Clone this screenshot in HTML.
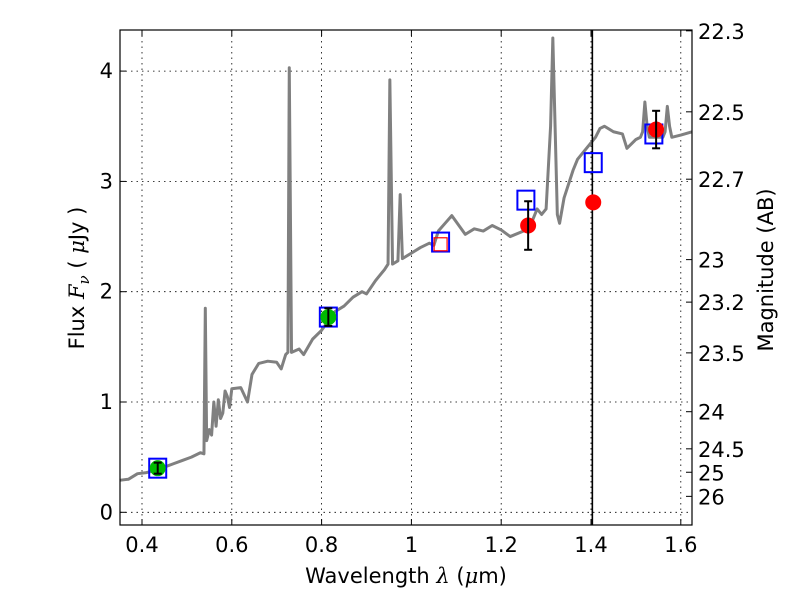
<!DOCTYPE html>
<html><head><meta charset="utf-8"><style>
body{margin:0;background:#fff}
svg text{font-family:"DejaVu Sans","Liberation Sans",sans-serif;font-size:21px;fill:#000}
</style></head><body>
<svg id="chart" width="800" height="600" xmlns="http://www.w3.org/2000/svg">
<rect width="800" height="600" fill="#fff"/>
<g id="grid"></g>
<g id="spec"></g>
<g id="marks"></g>
<rect x="120" y="30" width="572" height="495" fill="none" stroke="#000" stroke-width="1.2"/>
<g id="axes"></g>
<text x="406" y="583" text-anchor="middle">Wavelength  <tspan font-style="italic" font-family="DejaVu Serif">λ</tspan> (<tspan font-style="italic" font-family="DejaVu Serif">μ</tspan>m)</text>
<text transform="translate(84,278) rotate(-90)" text-anchor="middle">Flux  <tspan font-style="italic" font-family="DejaVu Serif">F</tspan><tspan font-style="italic" font-family="DejaVu Serif" font-size="15" dy="5">ν</tspan><tspan dy="-5">  ( </tspan><tspan font-style="italic" font-family="DejaVu Serif">μ</tspan>Jy )</text>
<text transform="translate(773,270) rotate(-90)" text-anchor="middle">Magnitude (AB)</text>
</svg>
<script>
const xTicks=[0.4,0.6,0.8,1,1.2,1.4,1.6];
const yTicks=[0,1,2,3,4];
const magTicks=[22.3,22.5,22.7,23,23.2,23.5,24,24.5,25,26];
const specLam=[0.35,0.37,0.39,0.41,0.43,0.45,0.47,0.49,0.51,0.53,0.538,0.541,0.544,0.55,0.555,0.56,0.565,0.57,0.575,0.58,0.585,0.59,0.595,0.6,0.62,0.635,0.645,0.66,0.68,0.7,0.71,0.72,0.725,0.728,0.733,0.75,0.76,0.78,0.8,0.83,0.85,0.87,0.89,0.9,0.92,0.94,0.948,0.952,0.958,0.97,0.975,0.98,1.0,1.02,1.04,1.05,1.06,1.075,1.09,1.12,1.14,1.16,1.18,1.2,1.22,1.25,1.27,1.28,1.29,1.30,1.31,1.315,1.32,1.325,1.33,1.34,1.36,1.37,1.39,1.41,1.42,1.43,1.45,1.47,1.48,1.50,1.51,1.515,1.52,1.525,1.53,1.56,1.565,1.57,1.575,1.58,1.60,1.625];
const specFlux=[0.29,0.30,0.35,0.36,0.38,0.41,0.44,0.47,0.50,0.54,0.53,1.85,0.65,0.75,0.70,1.0,0.78,1.02,0.85,0.9,1.1,1.05,0.95,1.12,1.13,1.0,1.25,1.35,1.37,1.36,1.30,1.43,1.45,4.03,1.45,1.48,1.43,1.57,1.65,1.82,1.87,1.95,2.0,1.98,2.1,2.2,2.25,3.92,2.25,2.28,2.88,2.3,2.35,2.4,2.44,2.42,2.55,2.62,2.69,2.52,2.57,2.55,2.6,2.56,2.5,2.55,2.65,2.75,2.7,2.75,3.5,4.3,3.5,2.7,2.62,2.85,3.1,3.2,3.3,3.4,3.48,3.5,3.45,3.43,3.3,3.38,3.4,3.45,3.72,3.5,3.4,3.4,3.45,3.68,3.5,3.4,3.42,3.45];
const greenLam=[0.435,0.815], greenFlux=[0.40,1.77], greenErr=[0.05,0.08];
const redLam=[1.26,1.405,1.545], redFlux=[2.60,2.81,3.47], redErr=[0.22,0,0.17];
const boxLam=[0.435,0.815,1.065,1.255,1.405,1.54], boxFlux=[0.40,1.77,2.45,2.83,3.17,3.43];
const redBoxLam=[1.065], redBoxFlux=[2.43];
const vline=1.403;
const X=v=>142+(v-0.4)*449;
const Y=v=>512.3-v*110.3;
const NS="http://www.w3.org/2000/svg";
function mk(parent,tag,attrs){const e=document.createElementNS(NS,tag);for(const k in attrs)e.setAttribute(k,attrs[k]);document.getElementById(parent).appendChild(e);return e;}
xTicks.forEach(t=>{
 const g=mk('grid','line',{x1:X(t),x2:X(t),y1:30,y2:525,stroke:'#000','stroke-dasharray':'1.5,4','stroke-width':0.8});
 
 
 mk('axes','line',{x1:X(t),x2:X(t),y1:525,y2:519,stroke:'#000'});
 mk('axes','line',{x1:X(t),x2:X(t),y1:30,y2:36,stroke:'#000'});
 const l=mk('axes','text',{x:X(t),y:552,'text-anchor':'middle'});l.textContent=String(t);
 
 
});
yTicks.forEach(t=>{
 const g=mk('grid','line',{x1:120,x2:692,y1:Y(t),y2:Y(t),stroke:'#000','stroke-dasharray':'1.5,4','stroke-width':0.8});
 
 
 mk('axes','line',{x1:120,x2:126,y1:Y(t),y2:Y(t),stroke:'#000'});
 const l=mk('axes','text',{x:113,y:Y(t)+7,'text-anchor':'end'});l.textContent=String(t);
 
 
});
magTicks.forEach(m=>{
 const y=Y(Math.pow(10,(23.9-m)/2.5));
 mk('axes','line',{x1:692,x2:686,y1:y,y2:y,stroke:'#000'});
 const l=mk('axes','text',{x:698,y:y+8,'text-anchor':'start'});l.textContent=String(m);
 
 
});
const sp=mk('spec','polyline',{points:specLam.map((l,i)=>X(l)+','+Y(specFlux[i])).join(' '),fill:'none',stroke:'#808080','stroke-width':3,'stroke-linejoin':'round'});


const vl=mk('marks','line',{x1:X(vline),x2:X(vline),y1:30,y2:525,stroke:'#000','stroke-width':1.6});


function pts(lams,fl,errs,col,name){
 lams.forEach((l,i)=>{
  const c=mk('marks','circle',{cx:X(l),cy:Y(fl[i]),r:8,fill:col});
  
  
  if(errs[i]>0){const x=X(l),y1=Y(fl[i]+errs[i]),y2=Y(fl[i]-errs[i]);
   mk('marks','line',{x1:x,x2:x,y1:y1,y2:y2,stroke:'#000','stroke-width':2});
   mk('marks','line',{x1:x-4,x2:x+4,y1:y1,y2:y1,stroke:'#000','stroke-width':2});
   mk('marks','line',{x1:x-4,x2:x+4,y1:y2,y2:y2,stroke:'#000','stroke-width':2});}
 });
}
boxLam.forEach((l,i)=>{
 const b=mk('marks','rect',{x:X(l)-8.5,y:Y(boxFlux[i])-9.5,width:17,height:19,fill:'none',stroke:'#0000ff','stroke-width':2});
 
 
});
redBoxLam.forEach((l,i)=>{
 const b=mk('marks','rect',{x:X(l)-6.5,y:Y(redBoxFlux[i])-6.5,width:13,height:13,fill:'none',stroke:'#ff0000','stroke-width':1.2});
 
 
});
pts(greenLam,greenFlux,greenErr,'#00bb00','green-point');
pts(redLam,redFlux,redErr,'#ff0000','red-point');
</script>
</body></html>
